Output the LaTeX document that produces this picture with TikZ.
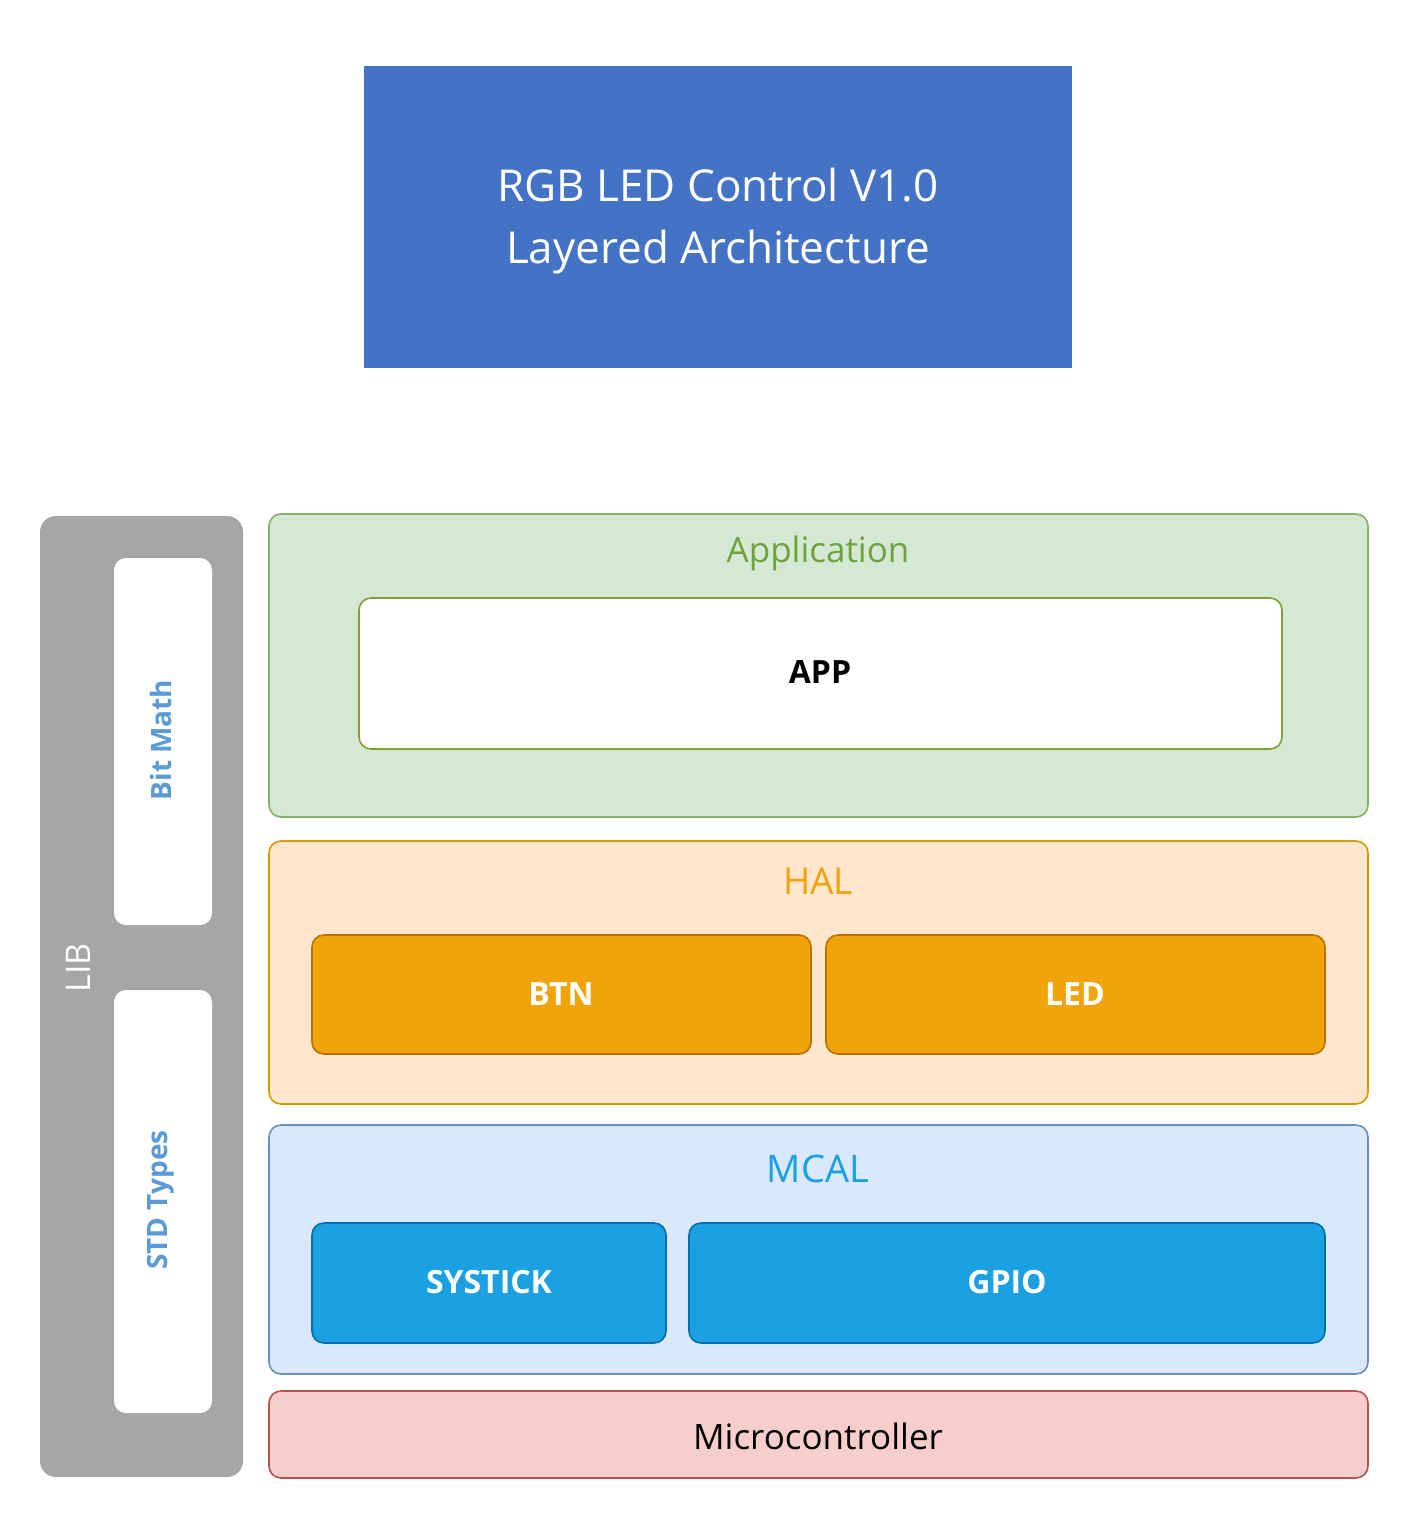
\documentclass[tikz,border=0pt]{standalone}
\usepackage{fontspec}
\setmainfont{Open Sans}
\definecolor{titleblue}{HTML}{4472C4}
\definecolor{libgray}{HTML}{A6A6A6}
\definecolor{libtext}{HTML}{5B9BD5}
\definecolor{appfill}{HTML}{D5E8D4}
\definecolor{appdraw}{HTML}{82B366}
\definecolor{apptext}{HTML}{6DA33A}
\definecolor{appinner}{HTML}{7EA035}
\definecolor{halfill}{HTML}{FFE6CC}
\definecolor{haldraw}{HTML}{D79B00}
\definecolor{haltext}{HTML}{F0A30A}
\definecolor{halbox}{HTML}{F0A30A}
\definecolor{halboxdraw}{HTML}{BD7000}
\definecolor{mcalfill}{HTML}{DAE8FC}
\definecolor{mcaldraw}{HTML}{6C8EBF}
\definecolor{mcaltext}{HTML}{1BA1E2}
\definecolor{mcalbox}{HTML}{1BA1E2}
\definecolor{mcalboxdraw}{HTML}{006EAF}
\definecolor{mcufill}{HTML}{F8CECC}
\definecolor{mcudraw}{HTML}{B85450}
\tikzset{
  layer/.style={rounded corners=6pt, line width=0.8pt},
  modbox/.style={rounded corners=6pt, line width=0.8pt},
  laylabel/.style={font=\fontsize{17.5}{20}\selectfont},
  modlabel/.style={font=\bfseries\fontsize{16}{19}\selectfont, text=white},
}
\begin{document}
\begin{tikzpicture}[x=0.5pt,y=-0.5pt]
\useasboundingbox (0,0) rectangle (1418,1531);
% title
\fill[titleblue] (364,66) rectangle (1072,368);
\node[text=white, align=center, font=\fontsize{22}{31}\selectfont] (title) at (718,221) {RGB LED Control V1.0\\Layered Architecture};
% LIB
\fill[libgray, rounded corners=8pt] (40,516) rectangle (243,1477);
\node[rotate=90, text=white, font=\fontsize{17}{20}\selectfont] (lib) at (78,968) {LIB};
\fill[white, rounded corners=6pt] (114,558) rectangle (212,925);
\node[rotate=90, text=libtext, font=\bfseries\fontsize{14}{16}\selectfont] (bitmath) at (161,740) {Bit Math};
\fill[white, rounded corners=6pt] (114,990) rectangle (212,1413);
\node[rotate=90, text=libtext, font=\bfseries\fontsize{14}{16}\selectfont] (stdtypes) at (161,1200) {STD Types};
% Application
\draw[layer, fill=appfill, draw=appdraw] (269,514) rectangle (1368,817);
\node[laylabel, text=apptext] (applabel) at (818,553) {Application};
\draw[modbox, fill=white, draw=appinner] (359,598) rectangle (1282,749);
\node[font=\bfseries\fontsize{16}{19}\selectfont] (app) at (820,672) {APP};
% HAL
\draw[layer, fill=halfill, draw=haldraw] (269,841) rectangle (1368,1104);
\node[laylabel, text=haltext, font=\fontsize{18.5}{21}\selectfont] (hallabel) at (818,881) {HAL};
\draw[modbox, fill=halbox, draw=halboxdraw] (312,935) rectangle (811,1054);
\node[modlabel] (btn) at (561,994) {BTN};
\draw[modbox, fill=halbox, draw=halboxdraw] (826,935) rectangle (1325,1054);
\node[modlabel] (led) at (1075,994) {LED};
% MCAL
\draw[layer, fill=mcalfill, draw=mcaldraw] (269,1125) rectangle (1368,1374);
\node[laylabel, text=mcaltext, font=\fontsize{19}{22}\selectfont] (mcallabel) at (818,1169) {MCAL};
\draw[modbox, fill=mcalbox, draw=mcalboxdraw] (312,1223) rectangle (666,1343);
\node[modlabel] (systick) at (489,1282) {SYSTICK};
\draw[modbox, fill=mcalbox, draw=mcalboxdraw] (689,1223) rectangle (1325,1343);
\node[modlabel] (gpio) at (1007,1282) {GPIO};
% Microcontroller
\draw[layer, fill=mcufill, draw=mcudraw] (269,1391) rectangle (1368,1478);
\node[laylabel, font=\fontsize{17.5}{20}\selectfont] (mcu) at (818,1436) {Microcontroller};
\end{tikzpicture}
\end{document}
